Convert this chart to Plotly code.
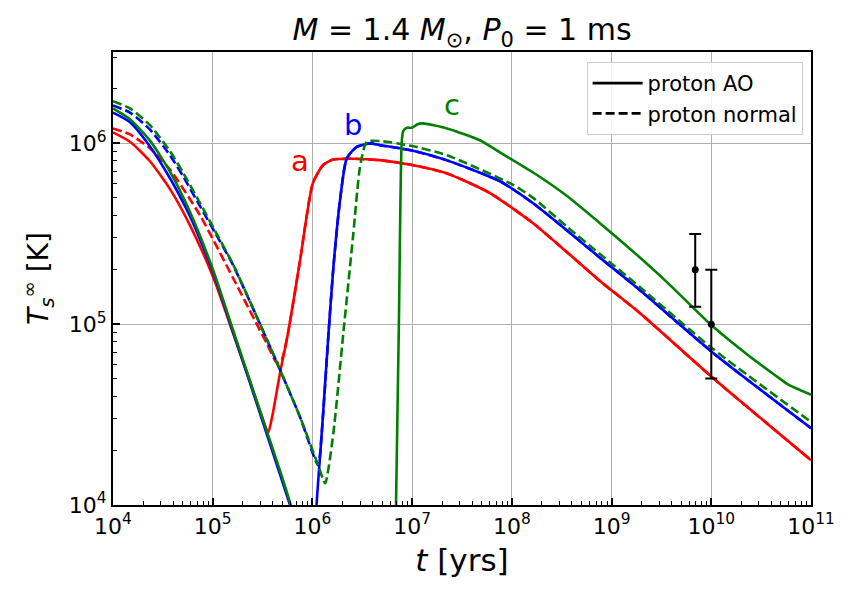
import numpy as np
import plotly.graph_objects as go

# ---------------- data ----------------
# model a, proton AO (red solid)
a_ao_t = [1.0e4, 1.48e4, 2.35e4, 3.73e4, 5.92e4, 1.01e5, 1.60e5, 2.37e5, 3.20e5, 3.59e5,
          3.94e5, 4.73e5, 5.69e5, 7.52e5, 1.01e6, 1.28e6, 1.61e6, 2.51e6, 5.01e6,
          1.0e7, 2.24e7, 6.03e7, 1.62e8, 3.55e8, 7.59e8, 1.93e9, 1.02e10, 1.0e11]
a_ao_T = [1.15e6, 1.02e6, 7.96e5, 5.58e5, 3.52e5, 1.82e5, 8.91e4, 4.79e4, 2.95e4, 2.50e4,
          3.06e4, 5.36e4, 8.91e4, 2.26e5, 6.03e5, 7.59e5, 8.13e5, 8.22e5, 8.05e5,
          7.59e5, 6.82e5, 5.31e5, 3.63e5, 2.51e5, 1.74e5, 1.15e5, 5.09e4, 1.77e4]
# model a, proton normal (red dashed)
a_no_t = [1.0e4, 1.48e4, 2.35e4, 3.73e4, 7.46e4, 1.60e5, 3.51e5, 4.42e5, 4.90e5,
          5.69e5, 7.52e5, 1.01e6, 1.28e6, 1.61e6, 2.51e6, 5.01e6,
          1.0e7, 2.24e7, 6.03e7, 1.62e8, 3.55e8, 7.59e8, 1.93e9, 1.02e10, 1.0e11]
a_no_T = [1.21e6, 1.12e6, 9.38e5, 7.16e5, 4.0e5, 1.80e5, 7.76e4, 6.10e4, 6.31e4,
          8.91e4, 2.26e5, 6.03e5, 7.59e5, 8.13e5, 8.22e5, 8.05e5,
          7.59e5, 6.82e5, 5.31e5, 3.63e5, 2.51e5, 1.74e5, 1.15e5, 5.09e4, 1.77e4]

# model b, proton AO (blue solid)
b_ao_t = [1.0e4, 1.48e4, 2.35e4, 3.73e4, 5.92e4, 1.01e5, 1.60e5, 2.37e5, 5.96e5, 7.94e5,
          1.07e6, 1.10e6, 1.24e6, 1.45e6, 1.62e6, 1.89e6, 2.21e6, 2.78e6, 3.78e6, 4.79e6,
          1.0e7, 2.24e7, 7.59e7, 1.62e8, 3.55e8, 7.59e8, 1.93e9, 1.02e10, 1.0e11]
b_ao_T = [1.48e6, 1.31e6, 9.62e5, 6.41e5, 3.95e5, 1.94e5, 9.04e4, 4.72e4, 1.0e4, 6.3e3,
          6.3e3, 1.0e4, 2.50e4, 8.91e4, 2.04e5, 4.84e5, 8.26e5, 9.55e5, 1.0e6, 9.77e5,
          9.12e5, 8.05e5, 6.17e5, 4.68e5, 3.31e5, 2.34e5, 1.54e5, 7.0e4, 2.66e4]
# model b, proton normal (blue dashed)
b_no_t = [1.0e4, 1.48e4, 2.35e4, 3.73e4, 5.04e4, 7.46e4, 1.05e5, 1.60e5, 3.51e5, 7.52e5,
          1.14e6, 1.24e6, 1.45e6, 1.62e6, 1.89e6, 2.21e6, 2.78e6, 3.78e6, 4.79e6,
          1.0e7, 2.24e7, 7.59e7, 1.62e8, 3.55e8, 7.59e8, 1.93e9, 1.02e10, 1.0e11]
b_no_T = [1.62e6, 1.48e6, 1.19e6, 8.59e5, 6.58e5, 4.49e5, 3.22e5, 2.12e5, 8.17e4, 3.06e4,
          1.66e4, 2.50e4, 8.91e4, 2.04e5, 4.84e5, 8.26e5, 9.55e5, 1.0e6, 9.77e5,
          9.12e5, 8.05e5, 6.17e5, 4.68e5, 3.31e5, 2.34e5, 1.54e5, 7.0e4, 2.66e4]

# model c, proton AO (green solid)
c_ao_t = [1.0e4, 1.48e4, 2.35e4, 3.73e4, 5.92e4, 1.01e5, 1.60e5, 2.37e5, 5.96e5, 7.94e5,
          1.0e6, 6.46e6, 6.89e6, 7.36e6, 7.85e6, 8.13e6, 8.91e6, 1.0e7, 1.12e7, 1.26e7,
          2.24e7, 4.79e7, 7.59e7, 1.62e8, 3.55e8, 7.59e8, 1.66e9, 3.55e9, 1.0e10, 2.45e10,
          4.57e10, 5.75e10, 7.08e10, 1.0e11]
c_ao_T = [1.56e6, 1.36e6, 1.035e6, 6.98e5, 4.17e5, 1.99e5, 9.27e4, 4.84e4, 1.03e4, 5.0e3,
          1.0e3, 1.0e3, 1.0e4, 1.0e5, 1.0e6, 1.17e6, 1.22e6, 1.22e6, 1.27e6, 1.29e6,
          1.21e6, 1.04e6, 8.91e5, 6.92e5, 5.13e5, 3.63e5, 2.51e5, 1.72e5, 9.89e4, 6.61e4,
          5.13e4, 4.68e4, 4.42e4, 4.07e4]
# model c, proton normal (green dashed)
c_no_t = [1.0e4, 1.48e4, 2.35e4, 3.73e4, 5.04e4, 7.46e4, 1.05e5, 1.60e5, 3.51e5, 7.52e5,
          1.14e6, 1.34e6, 1.62e6, 2.04e6, 2.57e6, 3.0e6, 3.51e6, 4.76e6, 1.0e7, 2.24e7,
          1.03e8, 1.62e8, 3.55e8, 7.59e8, 1.93e9, 1.02e10, 1.0e11]
c_no_T = [1.71e6, 1.56e6, 1.26e6, 9.04e5, 6.89e5, 4.67e5, 3.30e5, 2.14e5, 8.17e4, 3.06e4,
          1.66e4, 1.32e4, 2.49e4, 8.89e4, 3.16e5, 7.40e5, 1.02e6, 1.03e6, 9.66e5, 8.59e5,
          5.89e5, 5.01e5, 3.47e5, 2.45e5, 1.60e5, 7.36e4, 2.88e4]

# observations with error bars
obs_t = [6.9e9, 1.0e10]
obs_T = [2.0e5, 1.0e5]
obs_T_hi = [3.15e5, 2.0e5]
obs_T_lo = [1.25e5, 5.0e4]

x_major = [1e4, 1e5, 1e6, 1e7, 1e8, 1e9, 1e10, 1e11]
x_labels = ["10<sup>4</sup>", "10<sup>5</sup>", "10<sup>6</sup>", "10<sup>7</sup>",
            "10<sup>8</sup>", "10<sup>9</sup>", "10<sup>10</sup>", "10<sup>11</sup>"]
y_major = [1e4, 1e5, 1e6]
y_labels = ["10<sup>4</sup>", "10<sup>5</sup>", "10<sup>6</sup>"]

# ---------------- figure ----------------
RED, BLUE, GREEN = "#ff0000", "#0000ff", "#008000"
LW = 2.6
DASH = "9px,4px"
FONT = "DejaVu Sans"

fig = go.Figure()

series = [
    (a_ao_t, a_ao_T, RED, "solid"),
    (a_no_t, a_no_T, RED, DASH),
    (b_ao_t, b_ao_T, BLUE, "solid"),
    (b_no_t, b_no_T, BLUE, DASH),
    (c_ao_t, c_ao_T, GREEN, "solid"),
    (c_no_t, c_no_T, GREEN, DASH),
]
for t, T, col, dash in series:
    fig.add_trace(go.Scatter(x=t, y=T, mode="lines", showlegend=False,
                             line=dict(color=col, width=LW, dash=dash,
                                       shape="spline", smoothing=0.6)))

plus = [h - v for h, v in zip(obs_T_hi, obs_T)]
minus = [v - l for v, l in zip(obs_T, obs_T_lo)]
fig.add_trace(go.Scatter(x=obs_t, y=obs_T, mode="markers", showlegend=False,
                         marker=dict(color="black", size=7),
                         error_y=dict(type="data", array=plus, arrayminus=minus,
                                      color="black", thickness=2, width=6)))

# legend entries
fig.add_trace(go.Scatter(x=[None], y=[None], mode="lines", name="proton AO",
                         line=dict(color="black", width=LW)))
fig.add_trace(go.Scatter(x=[None], y=[None], mode="lines", name="proton normal",
                         line=dict(color="black", width=LW, dash=DASH)))

minor_x = [m * 10 ** e for e in range(4, 11) for m in range(2, 10)]
minor_y = [m * 10 ** e for e in range(4, 7) for m in range(2, 10)]

fig.update_xaxes(type="log", range=[4, 11], tickvals=x_major, ticktext=x_labels,
                 showline=True, linecolor="black", linewidth=2.3, mirror=True,
                 ticks="inside", ticklen=7, tickwidth=1.6, tickcolor="black",
                 showgrid=True, gridcolor="#b0b0b0", gridwidth=1.2, zeroline=False,
                 tickfont=dict(family=FONT, size=22, color="black"),
                 minor=dict(tickvals=minor_x, ticks="inside", ticklen=4, tickwidth=1.2,
                            tickcolor="black", showgrid=False),
                 title=dict(text="<i>t</i> [yrs]", font=dict(family=FONT, size=31, color="black"),
                            standoff=12))
fig.update_yaxes(type="log", range=[4, np.log10(3.2e6)], tickvals=y_major, ticktext=y_labels,
                 showline=True, linecolor="black", linewidth=2.3, mirror=True,
                 ticks="inside", ticklen=7, tickwidth=1.6, tickcolor="black",
                 showgrid=True, gridcolor="#b0b0b0", gridwidth=1.2, zeroline=False,
                 tickfont=dict(family=FONT, size=22, color="black"),
                 minor=dict(tickvals=minor_y, ticks="inside", ticklen=4, tickwidth=1.2,
                            tickcolor="black", showgrid=False),
                 title=dict(text="<i>T</i><sub><i>s</i></sub><sup>∞</sup> [K]",
                            font=dict(family=FONT, size=28, color="black"), standoff=12))

labels = [("a", 7.5e5, 8.0e5, RED), ("b", 2.55e6, 1.26e6, BLUE), ("c", 2.5e7, 1.62e6, GREEN)]
for txt, lx, ly, col in labels:
    fig.add_annotation(x=np.log10(lx), y=np.log10(ly), xref="x", yref="y", text=txt,
                       showarrow=False, font=dict(family=FONT, size=29, color=col))

fig.update_layout(
    width=855, height=597,
    margin=dict(l=113, r=44, t=52, b=92),
    paper_bgcolor="white", plot_bgcolor="white",
    title=dict(text="<i>M</i> = 1.4 <i>M</i><sub>⊙</sub>, <i>P</i><sub>0</sub> = 1 ms",
               x=0.5, xref="paper", xanchor="center", y=0.95, yanchor="middle",
               font=dict(family=FONT, size=30, color="black")),
    legend=dict(x=0.988, y=0.978, xanchor="right", yanchor="top",
                bgcolor="rgba(255,255,255,0.85)", bordercolor="#cccccc", borderwidth=1,
                font=dict(family=FONT, size=21, color="black"), itemwidth=50,
                tracegroupgap=2),
    font=dict(family=FONT),
)

fig.write_html("out.html")
